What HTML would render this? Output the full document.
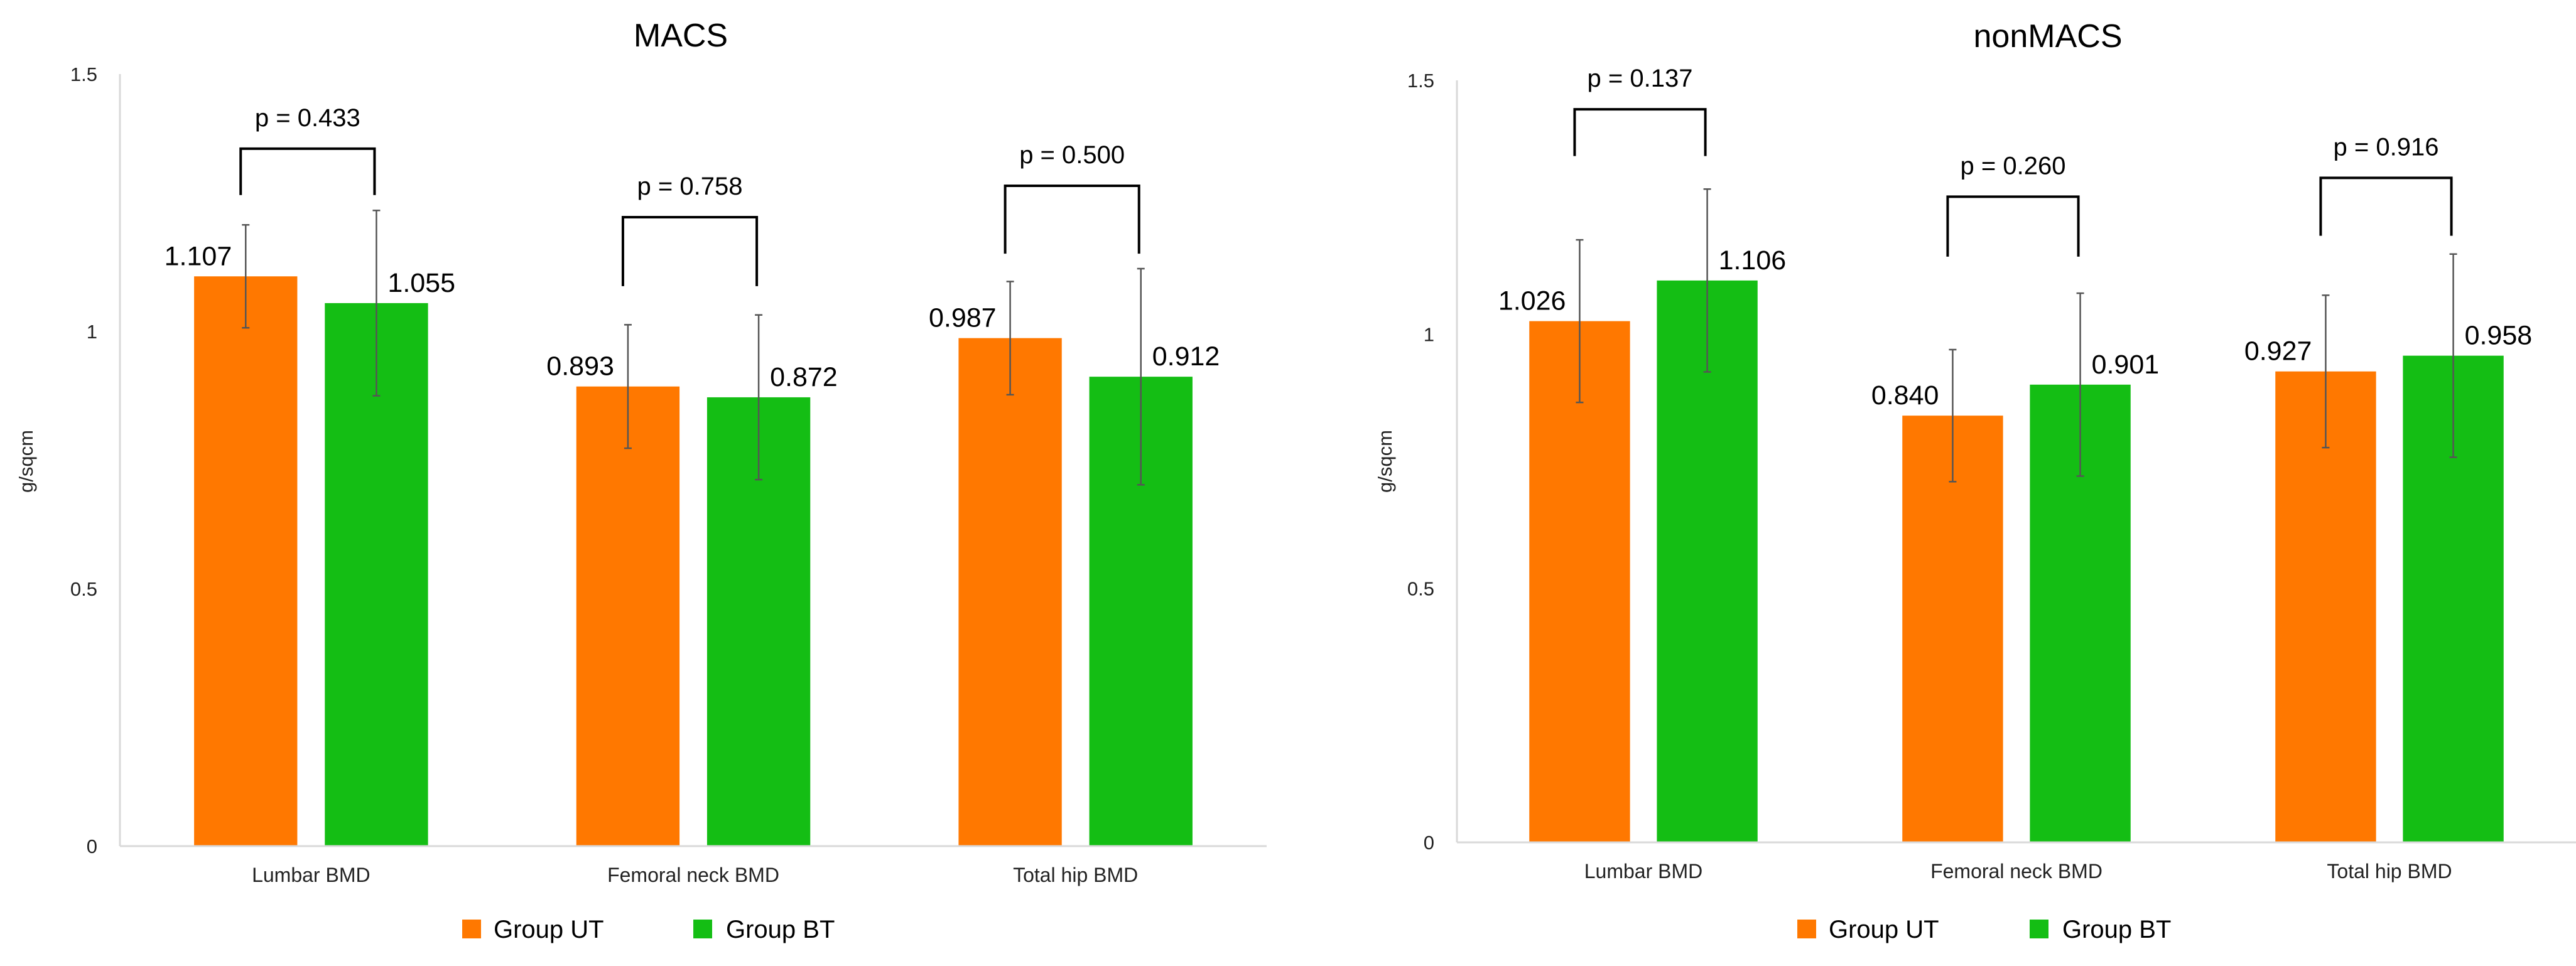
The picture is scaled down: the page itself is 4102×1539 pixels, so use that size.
<!DOCTYPE html>
<html><head><meta charset="utf-8"><style>
html,body{margin:0;padding:0;background:#fff}
svg{display:block;font-family:"Liberation Sans",Arial,sans-serif}
</style></head><body>
<svg id="c" width="4102" height="1539" viewBox="0 0 4102 1539" xmlns="http://www.w3.org/2000/svg"></svg>
<script>
const categories = ["Lumbar BMD","Femoral neck BMD","Total hip BMD"];
const yTicks = [0,0.5,1,1.5];
const yTickLabels = ["0","0.5","1","1.5"];
const macsUT = [1.107,0.893,0.987];
const macsBT = [1.055,0.872,0.912];
const macsUTerr = [0.10,0.12,0.11];
const macsBTerr = [0.18,0.16,0.21];
const macsP = ["p = 0.433","p = 0.758","p = 0.500"];
const macsBracketTop = [1.355,1.222,1.283];
const macsBracketBottom = [1.265,1.088,1.151];
const nonUT = [1.026,0.840,0.927];
const nonBT = [1.106,0.901,0.958];
const nonUTerr = [0.16,0.13,0.15];
const nonBTerr = [0.18,0.18,0.20];
const nonP = ["p = 0.137","p = 0.260","p = 0.916"];
const nonBracketTop = [1.443,1.271,1.308];
const nonBracketBottom = [1.351,1.153,1.194];

const NS="http://www.w3.org/2000/svg";
const svg=document.getElementById('c');
function mk(tag,attrs,parent){const e=document.createElementNS(NS,tag);for(const k in attrs)e.setAttribute(k,attrs[k]);(parent||svg).appendChild(e);return e;}

function panel(o){
  const g=mk('g',{});
  
  
  const y=v=>o.y0-(v/1.5)*(o.y0-o.y15);
  const cw=(o.xr-o.x0)/3;
  const cx=i=>o.x0+cw*(i+0.5);
  const bw=cw*0.27, gap=cw*0.072;
  const t=mk('text',{x:o.titleX,y:o.titleY,'font-size':52,'text-anchor':'middle',fill:'#000'},g);
  t.textContent=o.title;
  
  
  yTicks.forEach((v,i)=>{
    const tl=mk('text',{x:o.x0-36,y:y(v)+11,'font-size':31,'text-anchor':'end',fill:'#222'},g);
    tl.textContent=yTickLabels[i];
    
    
  });
  const yt=mk('text',{x:0,y:0,'font-size':31,'text-anchor':'middle',fill:'#222',transform:`translate(${o.ytX},735) rotate(-90)`},g);
  yt.textContent='g/sqcm';
  
  
  const ya=mk('line',{x1:o.x0,y1:o.y15,x2:o.x0,y2:o.y0,stroke:'#d9d9d9','stroke-width':3},g);
  
  
  categories.forEach((c,i)=>{
    const c0=cx(i);
    const ux=c0-gap/2-bw, bx=c0+gap/2;
    const ur=mk('rect',{x:ux,y:y(o.ut[i]),width:bw,height:o.y0-y(o.ut[i]),fill:'#FF7800'},g);
    
    
    const br=mk('rect',{x:bx,y:y(o.bt[i]),width:bw,height:o.y0-y(o.bt[i]),fill:'#14BE14'},g);
    
    
    [[ux+bw/2,o.ut[i],o.ute[i]],[bx+bw/2,o.bt[i],o.bte[i]]].forEach(([ex,v,e])=>{
      const eb=mk('path',{d:`M${ex},${y(v+e)}V${y(v-e)}M${ex-6},${y(v+e)}h12M${ex-6},${y(v-e)}h12`,stroke:'#555','stroke-width':2.5,fill:'none'},g);
      
      
    });
    const lu=mk('text',{x:ux+bw/2-22,y:y(o.ut[i])-18,'font-size':43,'text-anchor':'end',fill:'#000'},g);
    lu.textContent=o.ut[i].toFixed(3);
    
    
    const lb=mk('text',{x:bx+bw/2+18,y:y(o.bt[i])-18,'font-size':43,'text-anchor':'start',fill:'#000'},g);
    lb.textContent=o.bt[i].toFixed(3);
    
    
    const x1=ux+bw/2-8,x2=bx+bw/2-3;
    const bk=mk('path',{d:`M${x1},${y(o.bb[i])}V${y(o.bt2[i])}H${x2}V${y(o.bb[i])}`,stroke:'#000','stroke-width':4,fill:'none'},g);
    
    
    const pl=mk('text',{x:(x1+x2)/2,y:y(o.bt2[i])-36,'font-size':40,'text-anchor':'middle',fill:'#000'},g);
    pl.textContent=o.p[i];
    
    
    const cl=mk('text',{x:c0,y:o.y0+57,'font-size':32,'text-anchor':'middle',fill:'#222'},g);
    cl.textContent=c;
    
    
  });
  const xa=mk('line',{x1:o.x0,y1:o.y0,x2:o.xr,y2:o.y0,stroke:'#d9d9d9','stroke-width':3},g);
  
  
  const s1=mk('rect',{x:o.legX1,y:1465,width:30,height:30,fill:'#FF7800'},g);
  
  
  const l1=mk('text',{x:o.legX1+50,y:1494,'font-size':40,fill:'#000'},g);
  l1.textContent='Group UT';
  
  
  const s2=mk('rect',{x:o.legX2,y:1465,width:30,height:30,fill:'#14BE14'},g);
  
  
  const l2=mk('text',{x:o.legX2+52,y:1494,'font-size':40,fill:'#000'},g);
  l2.textContent='Group BT';
  
  
}
panel({id:'macs',title:'MACS',titleX:1084,titleY:74,x0:191,xr:2017,y0:1348,y15:118,ytX:52,
  ut:macsUT,bt:macsBT,ute:macsUTerr,bte:macsBTerr,p:macsP,bt2:macsBracketTop,bb:macsBracketBottom,legX1:736,legX2:1104});
panel({id:'nonmacs',title:'nonMACS',titleX:3261,titleY:75,x0:2320,xr:4102,y0:1342,y15:128,ytX:2216,
  ut:nonUT,bt:nonBT,ute:nonUTerr,bte:nonBTerr,p:nonP,bt2:nonBracketTop,bb:nonBracketBottom,legX1:2862,legX2:3232});
</script>
</body></html>
